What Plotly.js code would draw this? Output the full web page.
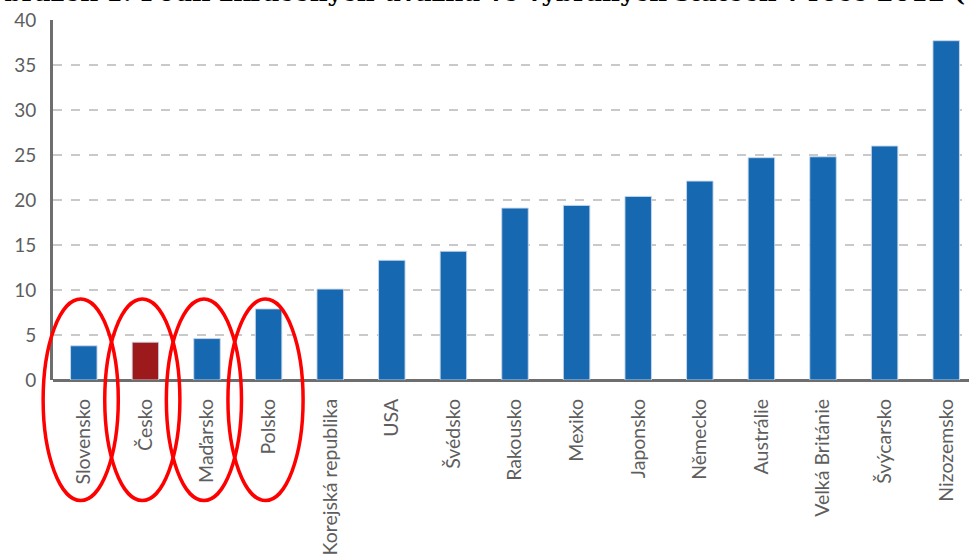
<!DOCTYPE html>
<html>
<head>
<meta charset="utf-8">
<script src="https://cdn.plot.ly/plotly-3.0.1.min.js"></script>
<style>html,body{margin:0;padding:0;background:#fff;}#chart{width:969px;height:560px;}</style>
</head>
<body>
<div id="chart"></div>
<script>
const countries = ["Slovensko","Česko","Maďarsko","Polsko","Korejská republika","USA","Švédsko","Rakousko","Mexiko","Japonsko","Německo","Austrálie","Velká Británie","Švýcarsko","Nizozemsko"];
const values = [3.8, 4.2, 4.6, 7.9, 10.1, 13.3, 14.3, 19.1, 19.4, 20.4, 22.1, 24.7, 24.8, 26.0, 37.7];
const highlighted = ["Česko"];
const circled = ["Slovensko","Česko","Maďarsko","Polsko"];
const yTicks = [0,5,10,15,20,25,30,35,40];
const titleText = "Obrázek 1: Podíl zkrácených úvazků ve vybraných státech v roce 2012 (%)";

const blue = "#1668B0", red = "#9C1A1C";
const colors = countries.map(c => highlighted.includes(c) ? red : blue);
const xRange = [-0.5, 14.37];
const toPaper = v => (v - xRange[0]) / (xRange[1] - xRange[0]);

const trace = {
  type: "bar",
  x: countries,
  y: values,
  marker: {color: colors, line: {color: "rgba(200,215,235,0.9)", width: 1}},
  hoverinfo: "x+y"
};

const shapes = circled.map(c => {
  const i = countries.indexOf(c);
  return {
    type: "circle", xref: "paper", yref: "paper",
    x0: toPaper(i - 0.66), x1: toPaper(i + 0.56),
    y0: -0.335, y1: 0.225,
    line: {color: "#FF0000", width: 3.5},
    fillcolor: "rgba(0,0,0,0)"
  };
});

const layout = {
  width: 969, height: 560,
  margin: {l: 53, r: 0, t: 20, b: 180},
  paper_bgcolor: "#fff", plot_bgcolor: "#fff",
  showlegend: false,
  bargap: 0.57,
  font: {family: "Lato, 'Noto Sans', sans-serif", color: "#5a5a5a", size: 19},
  xaxis: {
    type: "category",
    range: xRange,
    tickangle: -90,
    ticks: "",
    ticklabelstandoff: 14,
    showline: false,
    showgrid: false,
    zeroline: false,
    tickfont: {size: 19.5, color: "#5e5e5e"}
  },
  yaxis: {
    range: [0, 40],
    tickvals: yTicks,
    ticktext: yTicks.map(String),
    ticks: "",
    ticklabelstandoff: 10,
    showline: true, linecolor: "#6e6e6e", linewidth: 3,
    showgrid: true, gridcolor: "#c9c9c9", gridwidth: 1.5, griddash: "dash",
    zeroline: true, zerolinecolor: "#6e6e6e", zerolinewidth: 3,
    tickfont: {size: 19, color: "#5e5e5e"}
  },
  shapes: shapes,
  annotations: [{
    text: "<b>" + titleText + "</b>",
    xref: "paper", yref: "paper", xanchor: "left", yanchor: "middle",
    x: -0.079, y: 1.076, showarrow: false,
    font: {family: "'DejaVu Serif', 'Liberation Serif', serif", size: 24.6, color: "#000"}
  }]
};

Plotly.newPlot("chart", [trace], layout, {displayModeBar: false, staticPlot: true});
</script>
</body>
</html>
